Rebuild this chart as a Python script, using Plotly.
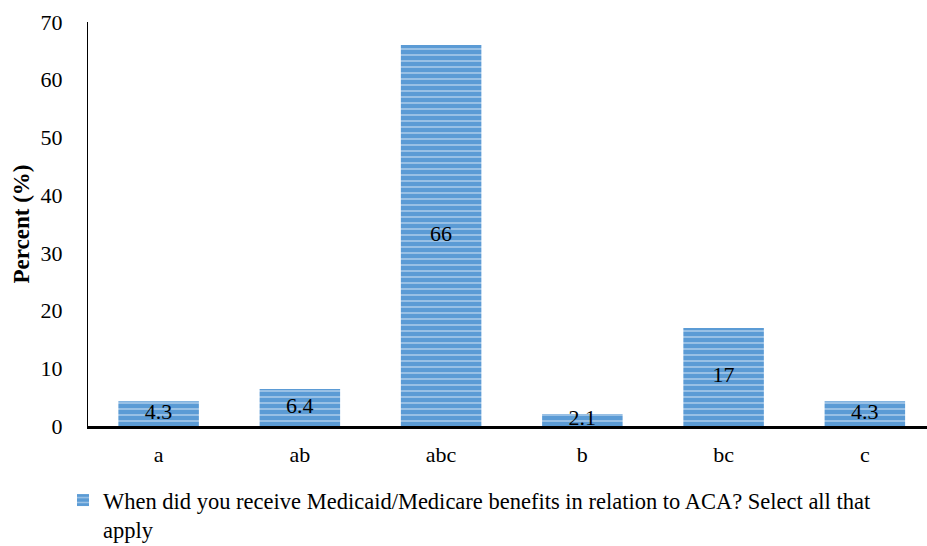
import plotly.graph_objects as go

categories = ["a", "ab", "abc", "b", "bc", "c"]
values = [4.3, 6.4, 66, 2.1, 17, 4.3]
labels = ["4.3", "6.4", "66", "2.1", "17", "4.3"]
y_ticks = [0, 10, 20, 30, 40, 50, 60, 70]
series_name = ("When did you receive Medicaid/Medicare benefits in relation to ACA? "
               "Select all that<br>apply")

FONT = "Liberation Serif, Times New Roman, serif"

fig = go.Figure()
fig.add_trace(go.Bar(
    x=categories, y=values, name=series_name,
    marker=dict(
        color="#5B9BD5",
        line=dict(width=0),
        pattern=dict(shape="-", fgcolor="#E3EEF9", bgcolor="#5B9BD5",
                     size=6, solidity=0.3, fillmode="overlay"),
    ),
    showlegend=True,
))
# value labels centred inside each bar
fig.add_trace(go.Scatter(
    x=categories, y=[v / 2 for v in values], text=labels,
    mode="text", textposition="middle center",
    textfont=dict(family=FONT, size=22, color="black"),
    showlegend=False, hoverinfo="skip", cliponaxis=False,
))

fig.update_layout(
    width=927, height=546,
    margin=dict(l=88, r=0, t=22, b=120, autoexpand=False),
    paper_bgcolor="white", plot_bgcolor="white",
    font=dict(family=FONT, size=22, color="black"),
    bargap=0.43,
    showlegend=True,
    legend=dict(orientation="h", x=-0.0298, y=-0.131, xanchor="left", yanchor="top",
                valign="top",
                font=dict(family=FONT, size=22.5, color="black"),
                itemwidth=30, tracegroupgap=0),
    xaxis=dict(range=[-0.5, 5.44], showline=True, linecolor="black", linewidth=3,
               ticks="", showgrid=False, zeroline=False,
               tickfont=dict(family=FONT, size=22, color="black"),
               ticklabelstandoff=7),
    yaxis=dict(range=[0, 70], tickvals=y_ticks, showline=True, linecolor="black",
               linewidth=1, ticks="", showgrid=False, zeroline=False,
               tickfont=dict(family=FONT, size=22, color="black"),
               ticklabelstandoff=20,
               title=dict(text="<b>Percent (%)</b>", standoff=4,
                          font=dict(family=FONT, size=23, color="black"))),
)

fig.write_html("out.html")
